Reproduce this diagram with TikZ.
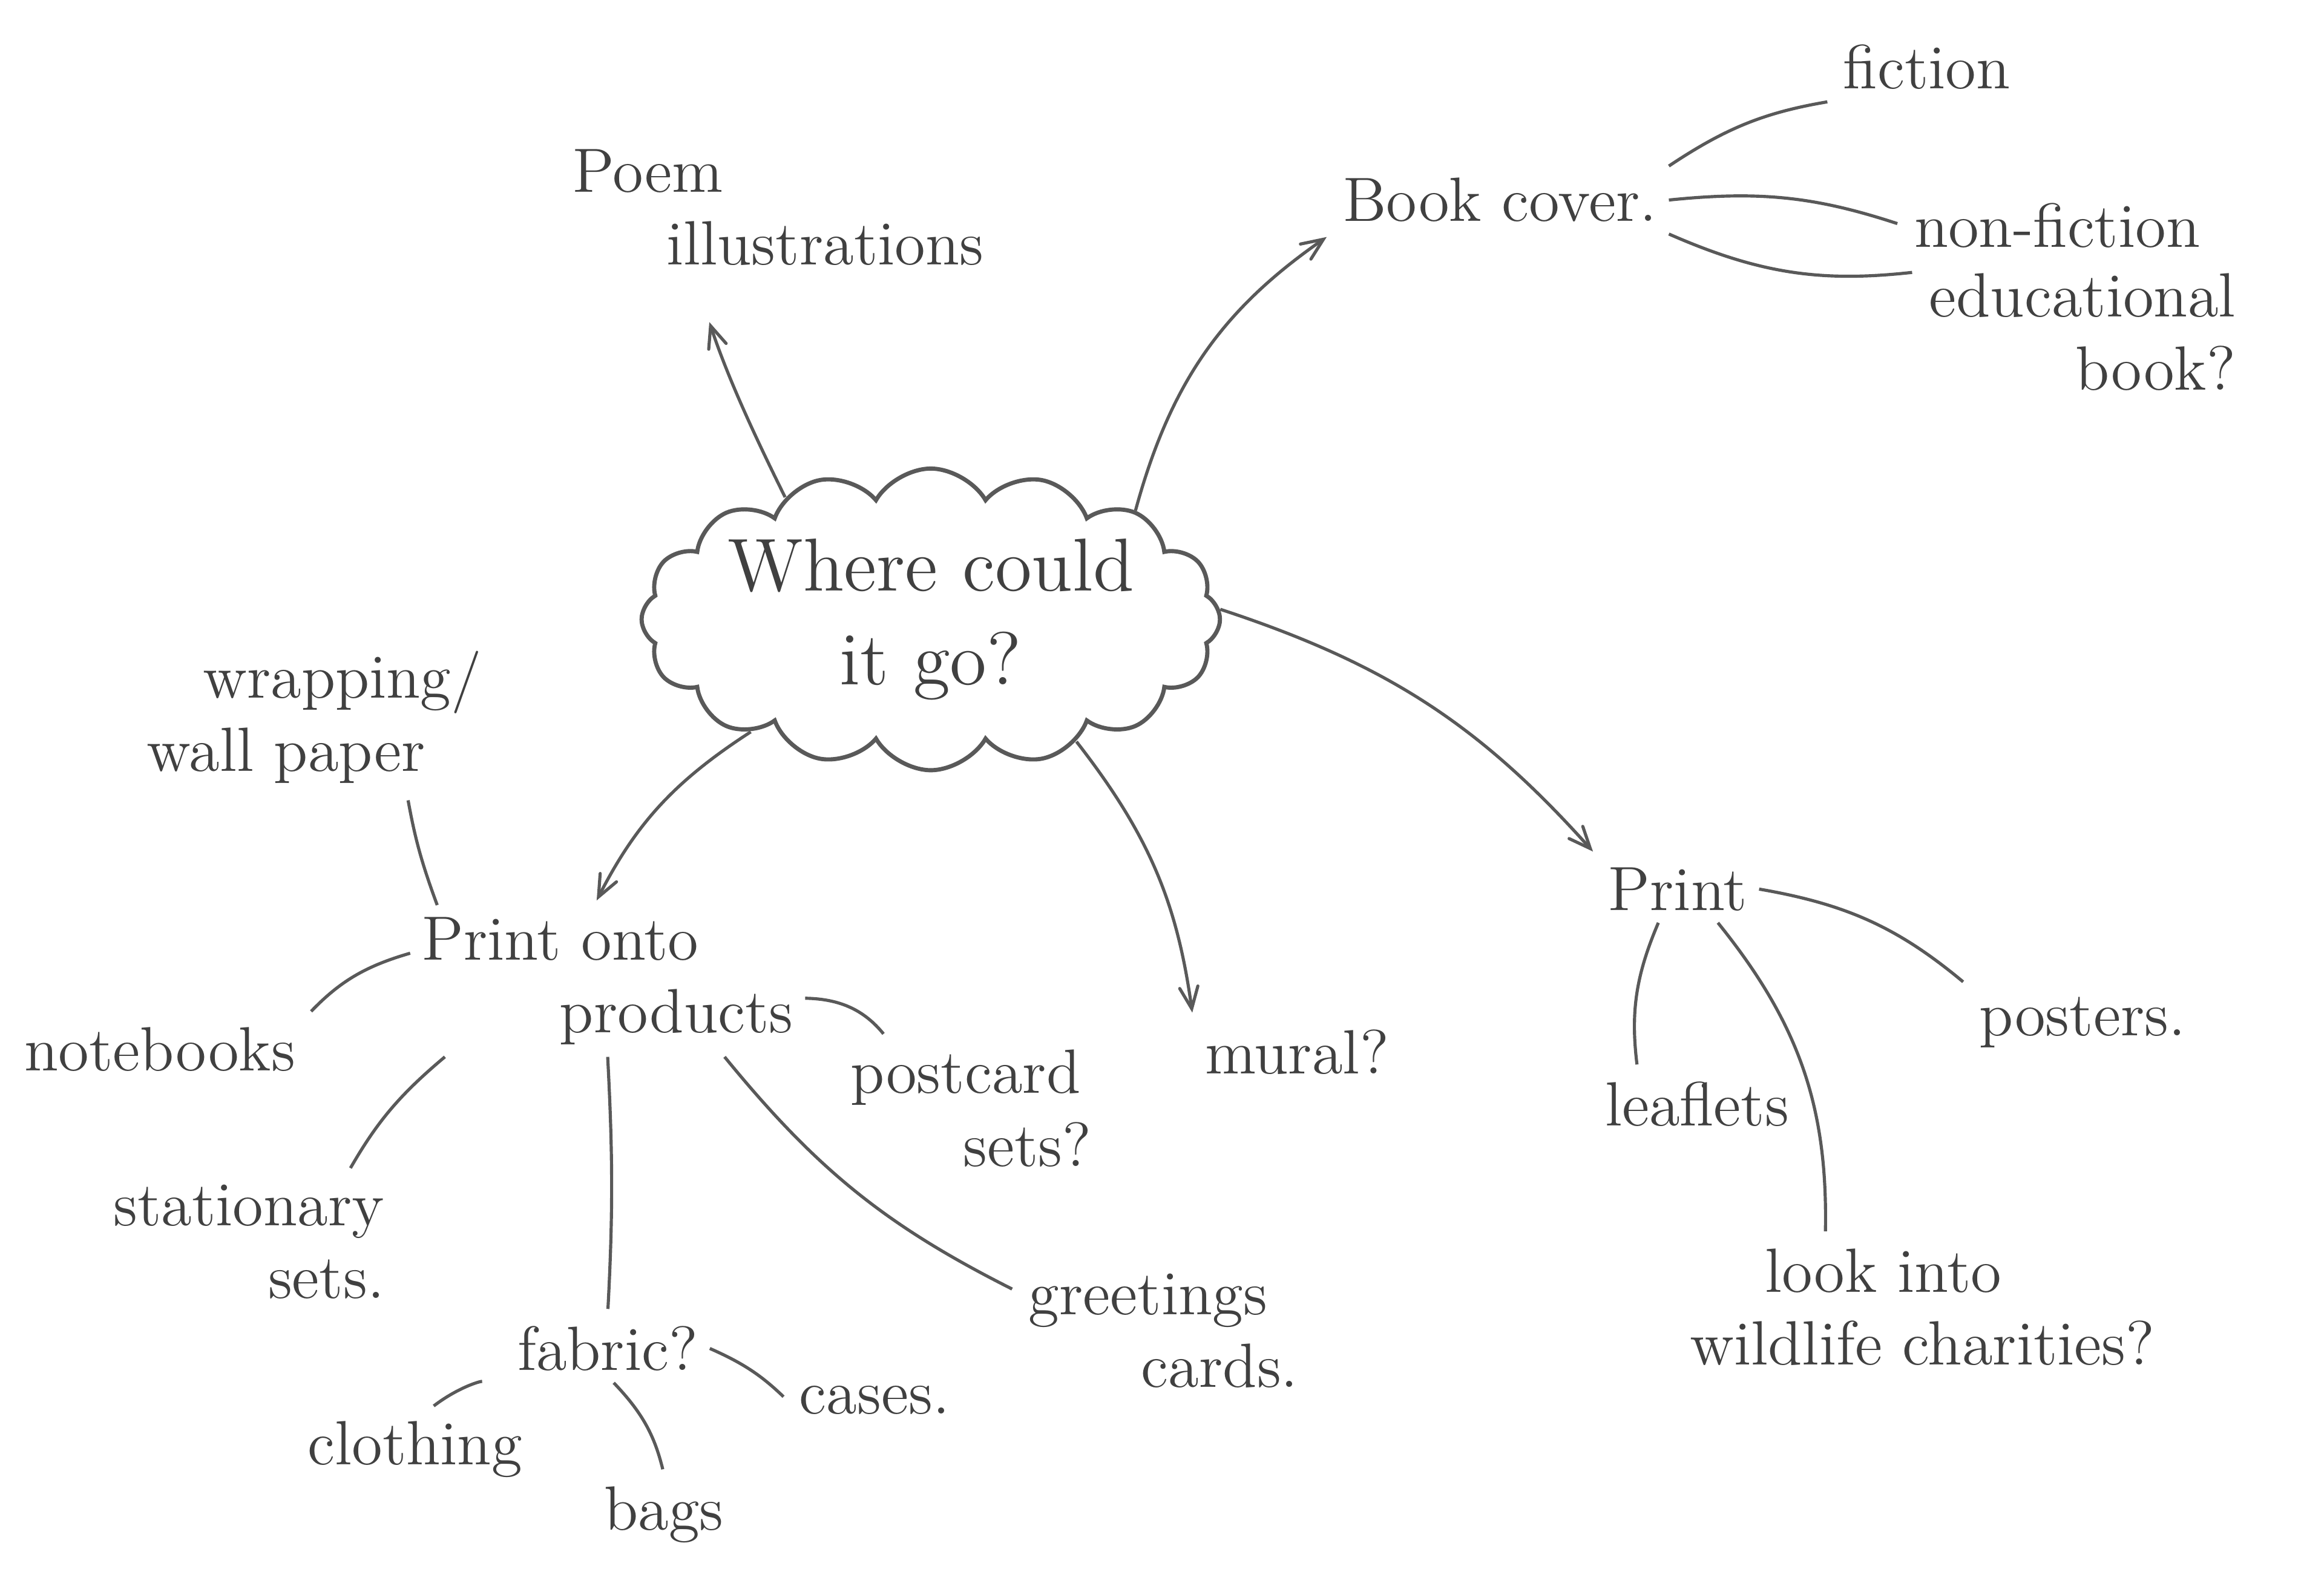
\documentclass[tikz,border=0pt]{standalone}
\usepackage{tikz}
\usetikzlibrary{arrows,positioning,shapes.symbols}
\tikzstyle{hub}=[cloud,cloud puffs=16,cloud puff arc=120,aspect=2.3,inner sep=-1pt,draw=black!65,thick,minimum width=3.9cm,minimum height=1.75cm,font=\Large,align=center,text=black!75]
\tikzstyle{idea}=[font=\large,text=black!75,inner sep=2pt]
\tikzstyle{twig}=[-]

\begin{document}
\begin{tikzpicture}[->,>=angle 45,shorten >=1pt,x=0.01cm,y=-0.01cm,
                    semithick,draw=black!65]
    \useasboundingbox (0,0) rectangle (1568,1074);

    \node[hub]  (W) at (628,418) {Where could\\it go?};

    \node[idea,align=left] (A) at (525,140) {Poem\\\hspace*{1.5em}illustrations};
    \node[idea] (B) at (1012,135) {Book cover.};
    \node[idea] (C1) at (1300,45) {fiction};
    \node[idea] (C2) at (1388,152) {non-fiction};
    \node[idea,align=right] (C3) at (1405,224) {educational\\book?};
    \node[idea] (P) at (1132,600) {Print};
    \node[idea] (Q1) at (1405,690) {posters.};
    \node[idea] (Q2) at (1145,745) {leaflets};
    \node[idea,align=left] (Q3) at (1297,882) {\hspace*{1.2em}look into\\wildlife charities?};
    \node[idea] (M) at (875,710) {mural?};
    \node[idea,align=left] (D) at (410,662) {Print onto\\\hspace*{2.2em}products};
    \node[idea,align=left] (E1) at (212,484) {\hspace*{0.9em}wrapping/\\wall paper};
    \node[idea] (E2) at (108,708) {notebooks};
    \node[idea,align=right] (E3) at (168,838) {stationary\\sets.};
    \node[idea] (F) at (410,910) {fabric?};
    \node[idea,align=left] (G1) at (655,748) {postcard\\\hspace*{1.8em}sets?};
    \node[idea,align=left] (G2) at (785,898) {greetings\\\hspace*{1.8em}cards.};
    \node[idea] (H1) at (280,978) {clothing};
    \node[idea] (H2) at (448,1022) {bags};
    \node[idea] (H3) at (590,945) {cases.};

    \path
        (W.140) edge [bend left=4, shorten >=9pt] (A.-140)
        (W.28)  edge [bend left=20] (B.south west)
        (W.2)   edge [bend left=15] (P.north west)
        (W.-40) edge [bend left=15] (M.north west)
        (W.212) edge [bend right=15] (D.100);
    \path[twig]
        (B.north east) edge [bend left=12] (C1.200)
        (B.east)       edge [bend left=12] (C2.west)
        (B.south east) edge [bend right=15] (C3.160)
        (P.east)       edge [bend left=15] (Q1.north west)
        (P.-120)       edge [bend right=15] (Q2.150)
        (P.-40)        edge [bend left=20] (Q3.144)
        (D.156)        edge [bend left=5] (E1.-40)
        (D.172)        edge [bend right=15] (E2.north east)
        (D.205)        edge [bend right=10] (E3.35)
        (D.south)      edge [bend left=3] (F.north)
        (D.-5)         edge [bend left=25] (G1.140)
        (D.-33)        edge [bend right=12] (G2.165)
        (F.200)        edge [bend right=20, shorten <=6pt] (H1.70)
        (F.-80)        edge [bend left=15] (H2.north)
        (F.east)       edge [bend left=10] (H3.west);
\end{tikzpicture}
\end{document}
